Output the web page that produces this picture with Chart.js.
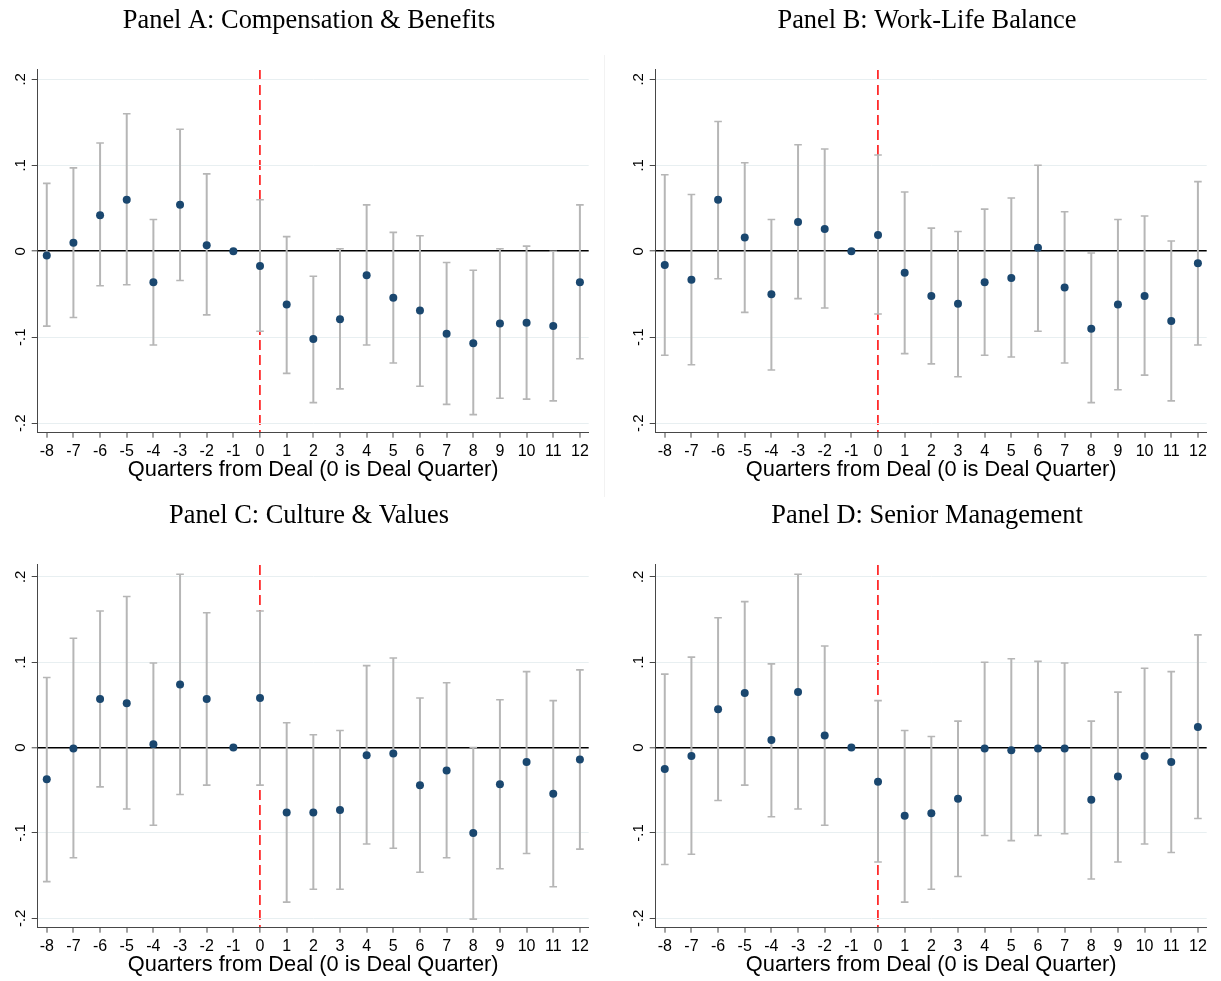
<!DOCTYPE html>
<html>
<head>
<meta charset="utf-8">
<title>Event-study estimates around the deal quarter</title>
<script src="https://cdn.jsdelivr.net/npm/chart.js@4.4.1/dist/chart.umd.min.js"></script>
<style>
  html, body { margin: 0; padding: 0; background: #ffffff; }
  #page { position: relative; width: 1221px; height: 981px; overflow: hidden; }
  .panel { position: absolute; width: 603px; height: 495px; }
  .panel canvas { display: block; }
  #divider { position: absolute; left: 604px; top: 55px; width: 1px; height: 442px; background: #f2f2f2; }
</style>
</head>
<body>
<div id="page">
  <div id="divider"></div>
  <div class="panel" style="left:0px;top:0px"><canvas id="chartA" width="603" height="495"></canvas></div>
  <div class="panel" style="left:618px;top:0px"><canvas id="chartB" width="603" height="495"></canvas></div>
  <div class="panel" style="left:0px;top:495px"><canvas id="chartC" width="603" height="495"></canvas></div>
  <div class="panel" style="left:618px;top:495px"><canvas id="chartD" width="603" height="495"></canvas></div>
</div>
<script>
// Event time (quarters relative to the deal quarter) and axis ticks
const quarters = [-8, -7, -6, -5, -4, -3, -2, -1, 0, 1, 2, 3, 4, 5, 6, 7, 8, 9, 10, 11, 12];
const xTickValues = [-8, -7, -6, -5, -4, -3, -2, -1, 0, 1, 2, 3, 4, 5, 6, 7, 8, 9, 10, 11, 12];
const yTickValues = [-0.2, -0.1, 0, 0.1, 0.2];
const yTickLabels = ['-.2', '-.1', '0', '.1', '.2'];
const xAxisTitle = 'Quarters from Deal (0 is Deal Quarter)';

// Panel A: Compensation & Benefits (quarter -1 is the omitted reference period)
const compCoef = [-0.005, 0.010, 0.042, 0.060, -0.036, 0.054, 0.007, 0, -0.017, -0.062, -0.102, -0.079, -0.028, -0.054, -0.069, -0.096, -0.107, -0.084, -0.083, -0.087, -0.036];
const compHigh = [0.079, 0.097, 0.126, 0.160, 0.037, 0.142, 0.090, null, 0.060, 0.017, -0.029, 0.003, 0.054, 0.022, 0.018, -0.013, -0.022, 0.003, 0.006, 0.000, 0.054];
const compLow  = [-0.087, -0.077, -0.040, -0.039, -0.109, -0.034, -0.074, null, -0.093, -0.142, -0.176, -0.160, -0.109, -0.130, -0.157, -0.178, -0.190, -0.171, -0.172, -0.174, -0.125];

// Panel B: Work-Life Balance
const wlbCoef = [-0.016, -0.033, 0.060, 0.016, -0.050, 0.034, 0.026, 0, 0.019, -0.025, -0.052, -0.061, -0.036, -0.031, 0.004, -0.042, -0.090, -0.062, -0.052, -0.081, -0.014];
const wlbHigh = [0.089, 0.066, 0.151, 0.103, 0.037, 0.124, 0.119, null, 0.112, 0.069, 0.027, 0.023, 0.049, 0.062, 0.100, 0.046, -0.002, 0.037, 0.041, 0.012, 0.081];
const wlbLow  = [-0.121, -0.132, -0.032, -0.071, -0.138, -0.055, -0.066, null, -0.073, -0.119, -0.131, -0.146, -0.121, -0.123, -0.093, -0.130, -0.176, -0.161, -0.144, -0.174, -0.109];

// Panel C: Culture & Values
const cultCoef = [-0.037, -0.001, 0.057, 0.052, 0.004, 0.074, 0.057, 0, 0.058, -0.076, -0.076, -0.073, -0.009, -0.007, -0.044, -0.027, -0.100, -0.043, -0.017, -0.054, -0.014];
const cultHigh = [0.082, 0.128, 0.160, 0.177, 0.099, 0.203, 0.158, null, 0.160, 0.029, 0.015, 0.020, 0.096, 0.105, 0.058, 0.076, 0.000, 0.056, 0.089, 0.055, 0.091];
const cultLow  = [-0.157, -0.129, -0.046, -0.072, -0.091, -0.055, -0.044, null, -0.044, -0.181, -0.166, -0.166, -0.113, -0.118, -0.146, -0.129, -0.201, -0.142, -0.124, -0.163, -0.119];

// Panel D: Senior Management
const mgmtCoef = [-0.025, -0.010, 0.045, 0.064, 0.009, 0.065, 0.014, 0, -0.040, -0.080, -0.077, -0.060, -0.001, -0.003, -0.001, -0.001, -0.061, -0.034, -0.010, -0.017, 0.024];
const mgmtHigh = [0.086, 0.106, 0.152, 0.171, 0.098, 0.203, 0.119, null, 0.055, 0.020, 0.013, 0.031, 0.100, 0.104, 0.101, 0.099, 0.031, 0.065, 0.093, 0.089, 0.132];
const mgmtLow  = [-0.137, -0.125, -0.062, -0.044, -0.081, -0.072, -0.091, null, -0.134, -0.181, -0.166, -0.151, -0.103, -0.109, -0.103, -0.101, -0.154, -0.134, -0.113, -0.123, -0.083];

const SANS = '"Liberation Sans", Arial, Helvetica, sans-serif';
const SERIF = '"Liberation Serif", "Times New Roman", Times, serif';
const POINT_COLOR = '#1a476f';
const CI_COLOR = '#b6b6b6';
const AXIS_COLOR = '#474747';

// Rotated y tick labels, placed at the y scale's own tick pixels
const rotatedYLabels = {
  id: 'rotatedYLabels',
  afterDraw(chart) {
    const s = chart.scales.y;
    const ctx = chart.ctx;
    ctx.save();
    ctx.font = '15px ' + SANS;
    ctx.fillStyle = '#000';
    ctx.textAlign = 'center';
    ctx.textBaseline = 'middle';
    yTickValues.forEach((v, i) => {
      const py = s.getPixelForValue(v);
      ctx.save();
      ctx.translate(s.right - 17, py);
      ctx.rotate(-Math.PI / 2);
      ctx.fillText(yTickLabels[i], 0, 0);
      ctx.restore();
    });
    ctx.restore();
  }
};

function whiskers(low, high) {
  const pts = [];
  quarters.forEach((q, i) => {
    if (low[i] === null || high[i] === null) return;
    pts.push({ x: q, y: low[i] }, { x: q, y: high[i] }, { x: q, y: null });
  });
  return pts;
}

function caps(low, high) {
  const pts = [];
  quarters.forEach((q, i) => {
    if (low[i] === null || high[i] === null) return;
    pts.push({ x: q, y: low[i] }, { x: q, y: high[i] });
  });
  return pts;
}

function makePanel(canvasId, title, coef, low, high, yMin, yMax) {
  const isZero = c => c.tick && Math.abs(c.tick.value) < 1e-9;
  return new Chart(document.getElementById(canvasId), {
    type: 'scatter',
    data: {
      datasets: [
        {
          label: 'Estimate',
          data: quarters.map((q, i) => ({ x: q, y: coef[i] })),
          pointRadius: 4,
          pointBackgroundColor: POINT_COLOR,
          pointBorderWidth: 0,
          showLine: false,
          order: 0
        },
        {
          label: 'CI caps',
          data: caps(low, high),
          pointStyle: 'line',
          pointRadius: 3.8,
          pointBorderColor: CI_COLOR,
          pointBorderWidth: 1.6,
          showLine: false,
          order: 1
        },
        {
          label: '95% CI',
          data: whiskers(low, high),
          showLine: true,
          spanGaps: false,
          borderColor: CI_COLOR,
          borderWidth: 2,
          pointRadius: 0,
          order: 2
        }
      ]
    },
    options: {
      responsive: false,
      animation: false,
      events: [],
      // the left padding holds the rotated tick labels and centres the title over the plot
      layout: { padding: { left: 29.3, right: 14.3, top: 0, bottom: 0 } },
      plugins: {
        legend: { display: false },
        tooltip: { enabled: false },
        title: {
          display: true,
          text: title,
          color: '#000',
          font: { family: SERIF, size: 26.4, weight: 'normal', lineHeight: 1.2 },
          padding: { top: 4.8, bottom: 33.4 }
        }
      },
      scales: {
        x: {
          type: 'linear',
          min: -8.34,
          max: 12.33,
          afterBuildTicks: s => { s.ticks = xTickValues.map(v => ({ value: v })); },
          afterFit: s => { s.height = 62.3; },
          ticks: {
            color: '#000',
            font: { family: SANS, size: 16 },
            padding: 4.5,
            maxRotation: 0,
            autoSkip: false,
            callback: v => String(v)
          },
          grid: {
            drawOnChartArea: true,
            color: c => isZero(c) ? '#ff2b2b' : 'rgba(0,0,0,0)',
            lineWidth: c => isZero(c) ? 1.8 : 0,
            tickColor: AXIS_COLOR,
            tickWidth: 1,
            tickLength: 5
          },
          border: { color: AXIS_COLOR, width: 1, dash: [10, 5] },
          title: {
            display: true,
            text: xAxisTitle,
            color: '#000',
            font: { family: SANS, size: 21.8, lineHeight: 1.2 },
            padding: { top: 0, bottom: 11.5 }
          }
        },
        y: {
          type: 'linear',
          min: yMin,
          max: yMax,
          afterBuildTicks: s => { s.ticks = yTickValues.map(v => ({ value: v })); },
          afterFit: s => { s.width = 8.4; },
          ticks: { display: false },
          grid: {
            drawOnChartArea: true,
            color: c => isZero(c) ? '#000000' : '#e8eff1',
            lineWidth: c => isZero(c) ? 1.6 : 1,
            tickColor: AXIS_COLOR,
            tickWidth: 1,
            tickLength: 6
          },
          border: { color: AXIS_COLOR, width: 1 }
        }
      }
    },
    plugins: [rotatedYLabels]
  });
}

makePanel('chartA', 'Panel A: Compensation & Benefits', compCoef, compLow, compHigh, -0.211, 0.211);
makePanel('chartB', 'Panel B: Work-Life Balance', wlbCoef, wlbLow, wlbHigh, -0.211, 0.211);
makePanel('chartC', 'Panel C: Culture & Values', cultCoef, cultLow, cultHigh, -0.211, 0.214);
makePanel('chartD', 'Panel D: Senior Management', mgmtCoef, mgmtLow, mgmtHigh, -0.211, 0.214);
</script>
</body>
</html>
